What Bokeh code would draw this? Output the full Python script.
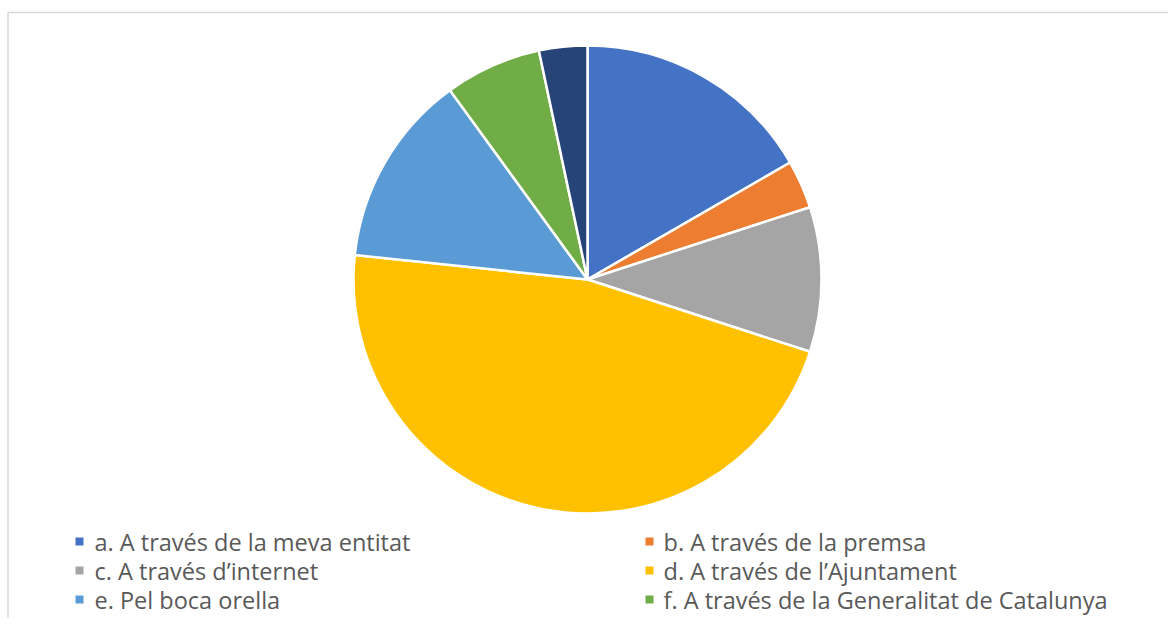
import math
from bokeh.plotting import figure
from bokeh.models import Range1d, ColumnDataSource
from bokeh.core.properties import value
from bokeh.embed import file_html
from bokeh.resources import INLINE

categories = [
    "a. A través de la meva entitat",
    "b. A través de la premsa",
    "c. A través d\u2019internet",
    "d. A través de l\u2019Ajuntament",
    "e. Pel boca orella",
    "f. A través de la Generalitat de Catalunya",
    "g.",
]
values = [10, 2, 6, 28, 8, 4, 2]
colors = ["#4472C4", "#ED7D31", "#A5A5A5", "#FFC000", "#5B9BD5", "#70AD47", "#264478"]

W, H = 1168, 618
p = figure(width=W, height=H, output_backend="svg", toolbar_location=None,
           x_range=Range1d(0, W), y_range=Range1d(0, H), min_border=0)
p.axis.visible = False
p.grid.visible = False
p.outline_line_color = None
p.background_fill_color = "white"

# chart frame (partially visible)
p.line([7.5, 7.5, W], [0, 606, 606], line_color="#D9D9D9", line_width=1.5)

# pie
cx, cy, r = 587, 339, 234
total = sum(values)
starts, ends = [], []
acc = 0.0
for v in values:
    a0 = acc / total * 2 * math.pi
    acc += v
    a1 = acc / total * 2 * math.pi
    starts.append(math.pi / 2 - a0)
    ends.append(math.pi / 2 - a1)
src = ColumnDataSource(dict(start=starts, end=ends, color=colors))
p.wedge(x=cx, y=cy, radius=r, start_angle="start", end_angle="end",
        direction="clock", fill_color="color", line_color="white", line_width=2.5, source=src)

# legend (first six entries visible; frame is cropped)
n = 6
col_sq = [79, 649]
col_tx = [94, 663]
row_y = [77, 48, 19]
lx, ly, tx = [], [], []
for i in range(n):
    c, rr = i % 2, i // 2
    lx.append(col_sq[c]); tx.append(col_tx[c]); ly.append(row_y[rr])
lsrc = ColumnDataSource(dict(x=lx, y=ly, tx=tx, text=categories[:n], color=colors[:n]))
p.scatter(x="x", y="y", marker="square", size=8, fill_color="color", line_color=None, source=lsrc)
p.text(x="tx", y="y", text="text", text_font=value("Open Sans"), text_font_size="23.5px",
       text_color="#595959", text_baseline="middle", text_align="left", source=lsrc)

open("out.html", "w").write(file_html(p, INLINE))
